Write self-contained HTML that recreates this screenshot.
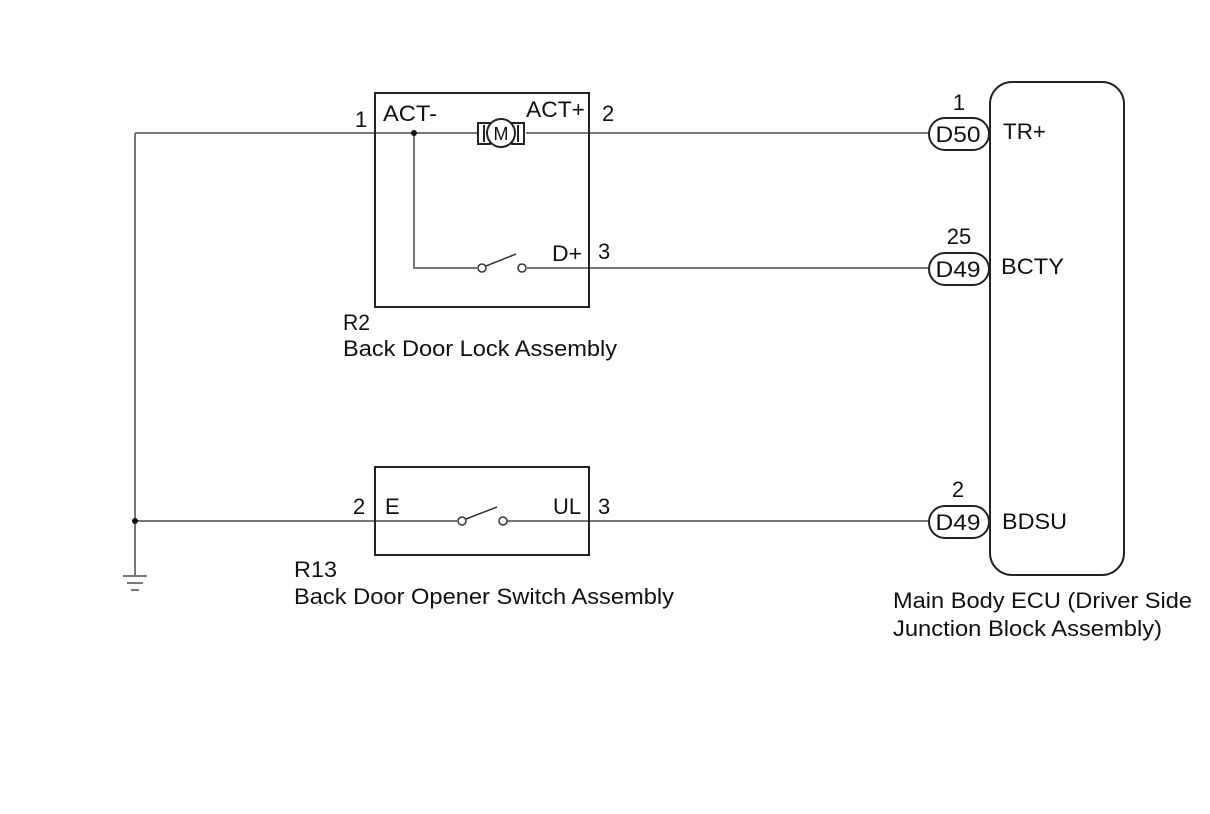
<!DOCTYPE html>
<html><head><style>
html,body{margin:0;padding:0;background:#fff;}
svg{display:block;}
text{font-family:"Liberation Sans",Arial,sans-serif;font-size:22px;fill:#111;}
</style></head><body>
<svg width="1210" height="814" viewBox="0 0 1210 814">
<g stroke="#777" stroke-width="2" fill="none">
<path d="M135 133 H477 M526 133 H929"/>
<path d="M135 133 V575"/>
<path d="M135 521 H457 M507 521 H929"/>
<path d="M414 133 V268 H477 M527 268 H929"/>
</g>
<g stroke="#222" stroke-width="2" fill="none">
<rect x="375" y="93" width="214" height="214"/>
<rect x="375" y="467" width="214" height="88"/>
<rect x="990" y="82" width="134" height="493" rx="22"/>
<rect x="929" y="118" width="60" height="32" rx="16"/>
<rect x="929" y="253" width="60" height="32" rx="16"/>
<rect x="929" y="506" width="60" height="32" rx="16"/>
<rect x="478" y="123" width="12" height="21" fill="#fff"/>
<rect x="512" y="123" width="12" height="21" fill="#fff"/>
<path d="M484 125 V142 M518 125 V142"/>
<circle cx="501" cy="133" r="14" fill="#fff"/>
</g>
<text x="501" y="140" text-anchor="middle" style="font-size:18px">M</text>
<g stroke="#333" stroke-width="1.5" fill="#fff">
<circle cx="482" cy="268" r="4"/><circle cx="522" cy="268" r="4"/>
<path d="M486 266 L516 254" fill="none"/>
<circle cx="462" cy="521" r="4"/><circle cx="503" cy="521" r="4"/>
<path d="M466 519 L497 507" fill="none"/>
</g>
<circle cx="414" cy="133" r="3" fill="#111"/>
<circle cx="135" cy="521" r="3" fill="#111"/>
<g stroke="#777" stroke-width="2">
<path d="M123 576 H147 M127 583 H143 M131 590 H139"/>
</g>
<text x="355" y="127">1</text>
<text x="383" y="121" textLength="54" lengthAdjust="spacingAndGlyphs">ACT-</text>
<text x="526" y="117" textLength="59" lengthAdjust="spacingAndGlyphs">ACT+</text>
<text x="602" y="121">2</text>
<text x="552" y="261" textLength="30" lengthAdjust="spacingAndGlyphs">D+</text>
<text x="598" y="259">3</text>
<text x="343" y="330" textLength="27" lengthAdjust="spacingAndGlyphs">R2</text>
<text x="343" y="356" textLength="274" lengthAdjust="spacingAndGlyphs">Back Door Lock Assembly</text>
<text x="353" y="514">2</text>
<text x="385" y="514">E</text>
<text x="553" y="514" textLength="28" lengthAdjust="spacingAndGlyphs">UL</text>
<text x="598" y="514">3</text>
<text x="294" y="577" textLength="43" lengthAdjust="spacingAndGlyphs">R13</text>
<text x="294" y="604" textLength="380" lengthAdjust="spacingAndGlyphs">Back Door Opener Switch Assembly</text>
<text x="959" y="110" text-anchor="middle">1</text>
<text x="958" y="142" text-anchor="middle" textLength="45" lengthAdjust="spacingAndGlyphs">D50</text>
<text x="1003" y="139" textLength="43" lengthAdjust="spacingAndGlyphs">TR+</text>
<text x="959" y="244" text-anchor="middle">25</text>
<text x="958" y="277" text-anchor="middle" textLength="45" lengthAdjust="spacingAndGlyphs">D49</text>
<text x="1001" y="274" textLength="63" lengthAdjust="spacingAndGlyphs">BCTY</text>
<text x="958" y="497" text-anchor="middle">2</text>
<text x="958" y="530" text-anchor="middle" textLength="45" lengthAdjust="spacingAndGlyphs">D49</text>
<text x="1002" y="529" textLength="65" lengthAdjust="spacingAndGlyphs">BDSU</text>
<text x="893" y="608" textLength="299" lengthAdjust="spacingAndGlyphs">Main Body ECU (Driver Side</text>
<text x="893" y="636" textLength="269" lengthAdjust="spacingAndGlyphs">Junction Block Assembly)</text>
</svg>
</body></html>
